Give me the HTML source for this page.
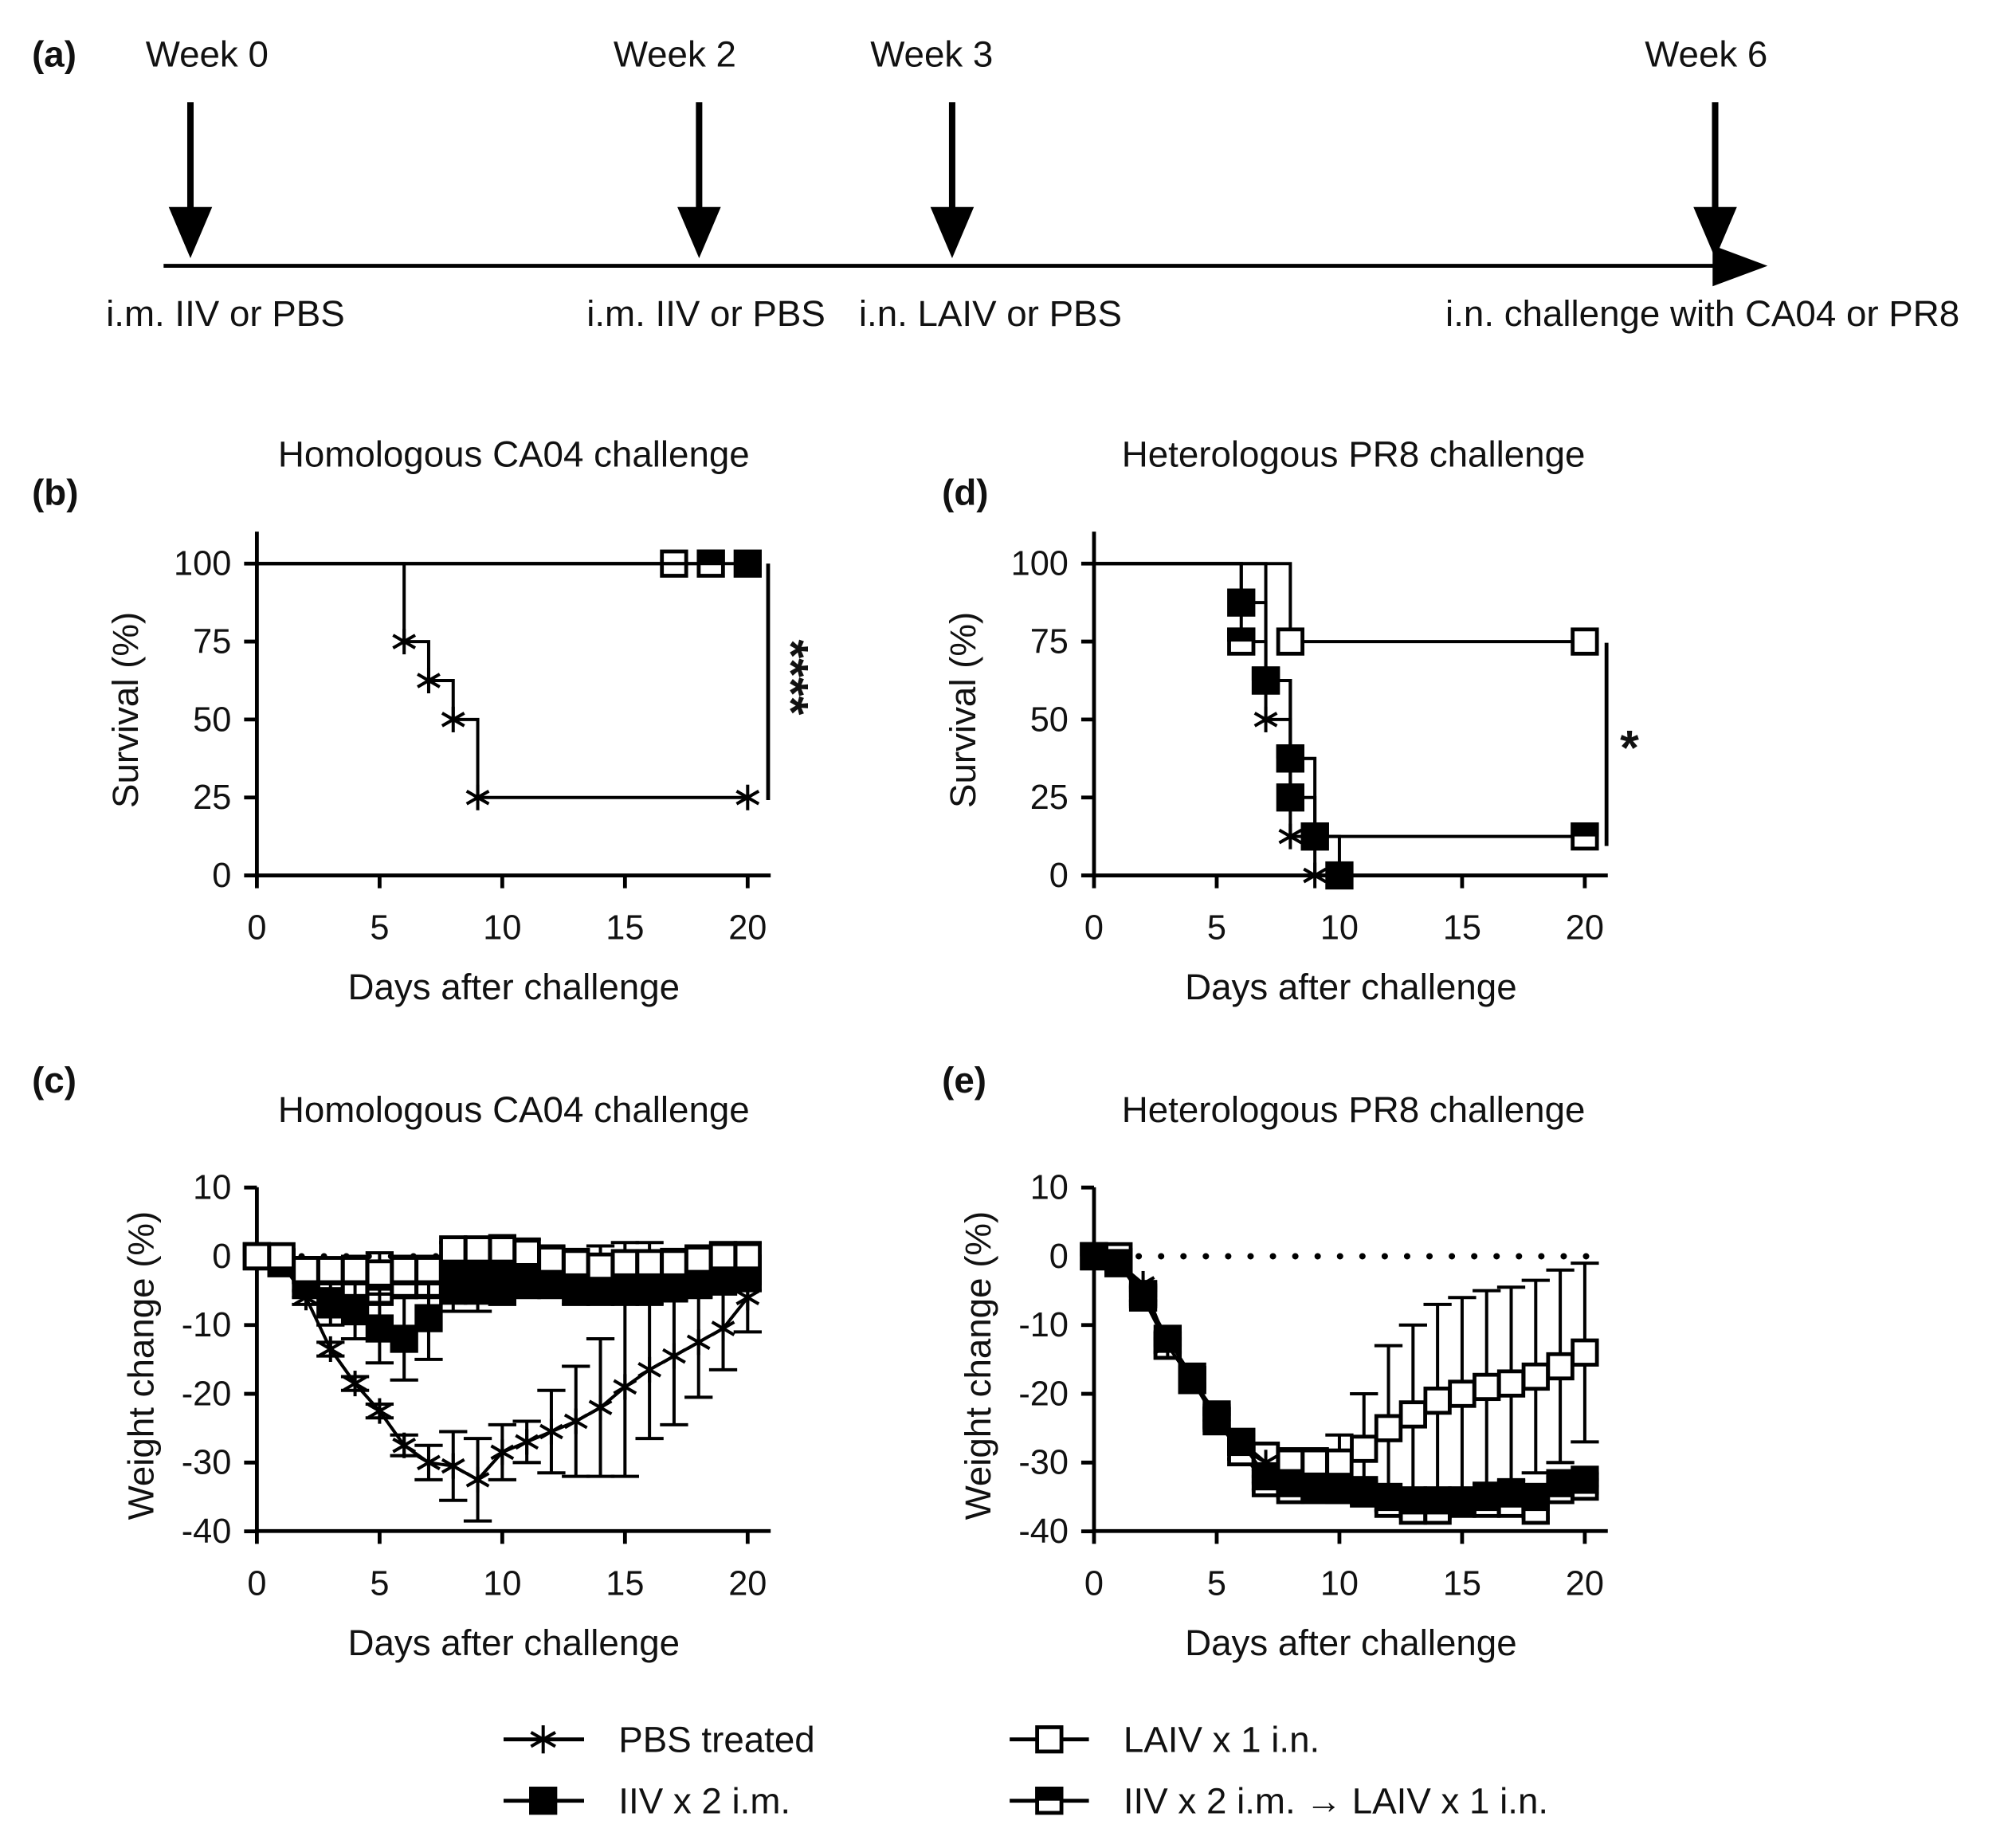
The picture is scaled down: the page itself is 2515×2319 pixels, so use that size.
<!DOCTYPE html>
<html><head><meta charset="utf-8"><style>
html,body{margin:0;padding:0;background:#fff}
svg{display:block}
text{font-family:"Liberation Sans",Arial,sans-serif;fill:#111}
</style></head><body>
<svg id="fig" width="2515" height="2319" viewBox="0 0 1568 1446" preserveAspectRatio="none" xmlns="http://www.w3.org/2000/svg">
<g font-size="28.5">
<text x="25" y="52" font-weight="bold">(a)</text>
<text x="162" y="52" text-anchor="middle">Week 0</text>
<text x="528" y="52" text-anchor="middle">Week 2</text>
<text x="729" y="52" text-anchor="middle">Week 3</text>
<text x="1335" y="52" text-anchor="middle">Week 6</text>
<line x1="128" y1="208" x2="1350" y2="208" stroke="#000" stroke-width="3"/>
<polygon points="1340,192 1383,208 1340,224" fill="#000"/>
<g><line x1="149" y1="80" x2="149" y2="170" stroke="#000" stroke-width="5"/><polygon points="132,162 166,162 149,202" fill="#000"/></g>
<g><line x1="547" y1="80" x2="547" y2="170" stroke="#000" stroke-width="5"/><polygon points="530,162 564,162 547,202" fill="#000"/></g>
<g><line x1="745" y1="80" x2="745" y2="170" stroke="#000" stroke-width="5"/><polygon points="728,162 762,162 745,202" fill="#000"/></g>
<g><line x1="1342" y1="80" x2="1342" y2="170" stroke="#000" stroke-width="5"/><polygon points="1325,162 1359,162 1342,202" fill="#000"/></g>
<text x="83" y="255">i.m. IIV or PBS</text>
<text x="459" y="255">i.m. IIV or PBS</text>
<text x="672" y="255">i.n. LAIV or PBS</text>
<text x="1131" y="255">i.n. challenge with CA04 or PR8</text>
</g>
<g id="plots"></g>
<g font-size="28.5">
<g><line x1="394" y1="1361" x2="457" y2="1361" stroke="#000" stroke-width="3"/><g id="lg0"></g><text x="484" y="1371">PBS treated</text></g>
<g><line x1="394" y1="1409" x2="457" y2="1409" stroke="#000" stroke-width="3"/><g id="lg1"></g><text x="484" y="1419">IIV x 2 i.m.</text></g>
<g><line x1="790" y1="1361" x2="852" y2="1361" stroke="#000" stroke-width="3"/><g id="lg2"></g><text x="879" y="1371">LAIV x 1 i.n.</text></g>
<g><line x1="790" y1="1409" x2="852" y2="1409" stroke="#000" stroke-width="3"/><g id="lg3"></g><text x="879" y="1419">IIV x 2 i.m. → LAIV x 1 i.n.</text></g>
</g>
</svg>
<script>
// ---- data ----
const days = [0,1,2,3,4,5,6,7,8,9,10,11,12,13,14,15,16,17,18,19,20];
const xTicks = [0,5,10,15,20];
const survTicks = [0,25,50,75,100];
const weightTicks = [-40,-30,-20,-10,0,10];
// survival step data (time, percent)
const survB_pbsT = [0,6,7,8,9,20];
const survB_pbsV = [100,75,62.5,50,25,25];
const survB_iivT = [0,20];   const survB_iivV = [100,100];
const survB_laivT = [0,17];  const survB_laivV = [100,100];
const survB_comboT = [0,18.5]; const survB_comboV = [100,100];
const survD_pbsT = [0,7,8,9];       const survD_pbsV = [100,50,12.5,0];
const survD_laivT = [0,8,20];       const survD_laivV = [100,75,75];
const survD_iivT = [0,6,7,8,8,9,10]; const survD_iivV = [100,87.5,62.5,37.5,25,12.5,0];
const survD_comboT = [0,6,7,8,9,20]; const survD_comboV = [100,75,62.5,37.5,12.5,12.5];
// weight change (%)
const wC_pbs   = [0,-1,-6,-13.5,-18.5,-22.5,-27.5,-30,-30.5,-32.5,-28.5,-27,-25.5,-24,-22,-19,-16.5,-14.5,-12.5,-10.5,-6];
const wC_pbsE  = [0,1,1,1,1,1,1.5,2.5,5,6,4,3,6,8,10,13,10,10,8,6,5];
const wC_laiv  = [0,0,-2,-2,-2,-2.5,-2,-2,1,1,1,0.5,-0.5,-1,-1.5,-1,-1,-1,-0.5,0,0];
const wC_laivE = [0,1,1,1,2,3,2,2,1,1,2,2,2,2,3,3,3,2,2,2,2];
const wC_iiv   = [0,-1,-4,-7,-8,-10.5,-12,-9,-5,-5,-5,-4,-4,-5,-5,-5,-5,-4.5,-4,-3.5,-3];
const wC_iivE  = [0,1,2,3,4,5,6,6,3,3,2,2,2,2,2,2,2,2,2,2,2];
const wC_combo = [0,-1,-2,-3,-4,-5,-4,-4,-3,-3,-3,-3,-3,-3,-3,-3,-3,-3,-2,-2,-2];
const wC_comboE= [0,1,1,2,2,2,2,2,2,2,2,2,2,2,2,2,2,2,2,2,2];
const wE_pbsD  = [0,1,2,3,4,5,6,7];
const wE_pbs   = [0,-1,-4,-13,-18,-23,-27,-30];
const wE_laiv  = [0,0,-5.5,-13,-18,-23,-27,-29,-30,-30,-30,-28,-25,-23,-21,-20,-19,-18.5,-17.5,-16,-14];
const wE_laivE = [0,1,1,1,1,1,1,1,2,2,4,8,12,13,14,14,14,14,14,14,13];
const wE_iiv   = [0,-1,-5.5,-12,-17.5,-23.5,-27,-32,-33,-33.5,-34,-34,-35,-35.5,-35.5,-35.5,-35,-34.5,-35,-33,-32.5];
const wE_iivE  = [0,1,1,1,1,1,1,1,1,1,1,1,1,1,1,1,1,1,1,1,1];
const wE_combo = [0,-1,-6,-13,-18,-24,-28.5,-33,-34,-34,-34,-34.5,-36,-37,-37,-36,-36,-36,-37,-34,-33.5];
const wE_comboE= [0,1,1,1,1,1,1,1,1,1,1,1,1,1,1,1,1,1,1,1,1];

const NS='http://www.w3.org/2000/svg';
const root=document.getElementById('plots');
function mk(tag,attrs,parent){const e=document.createElementNS(NS,tag);for(const k in attrs)e.setAttribute(k,attrs[k]);(parent||root).appendChild(e);return e;}

function marker(g,type,cx,cy,s){
  s=s||11;
  if(type==='star'){
    for(const a of [0,60,120]){const r=a*Math.PI/180;
      mk('line',{x1:cx-s*Math.sin(r),y1:cy-s*Math.cos(r),x2:cx+s*Math.sin(r),y2:cy+s*Math.cos(r),stroke:'#000','stroke-width':2.5},g);}
  } else if(type==='filled'){
    mk('rect',{x:cx-s,y:cy-s,width:2*s,height:2*s,fill:'#000'},g);
  } else if(type==='open'){
    mk('rect',{x:cx-s+1.5,y:cy-s+1.5,width:2*s-3,height:2*s-3,fill:'#fff',stroke:'#000','stroke-width':3},g);
  } else {
    mk('rect',{x:cx-s+1.5,y:cy-s+1.5,width:2*s-3,height:2*s-3,fill:'#fff',stroke:'#000','stroke-width':3},g);
    mk('rect',{x:cx-s,y:cy-s,width:2*s,height:s,fill:'#000'},g);
  }
}

function axes(x0,yTop,yBot,xs,ys,yMin,yMax,yTicks,ylabel,name){
  const g=mk('g',{});
  
  
  mk('line',{x1:x0,y1:yTop,x2:x0,y2:yBot+1.5,stroke:'#000','stroke-width':3},g);
  mk('line',{x1:x0,y1:yBot,x2:x0+402,y2:yBot,stroke:'#000','stroke-width':3},g);
  for(const t of xTicks){const x=xs(t);
    mk('line',{x1:x,y1:yBot,x2:x,y2:yBot+10,stroke:'#000','stroke-width':3},g);
    const tx=mk('text',{x:x,y:yBot+50,'text-anchor':'middle','font-size':27},g);tx.textContent=t;}
  for(const t of yTicks){const y=ys(t);
    mk('line',{x1:x0-10,y1:y,x2:x0,y2:y,stroke:'#000','stroke-width':3},g);
    const tx=mk('text',{x:x0-20,y:y+9,'text-anchor':'end','font-size':27},g);tx.textContent=t;}
  const xl=mk('text',{x:x0+201,y:yBot+97,'text-anchor':'middle','font-size':28.5},g);xl.textContent='Days after challenge';
  
  
  const cy=(yTop+yBot)/2+5;
  const lx=x0-(ylabel==='Survival (%)'?93:81);
  const yl=mk('text',{x:lx,y:cy,'text-anchor':'middle','font-size':28.5,transform:`rotate(-90 ${lx} ${cy})`},g);yl.textContent=ylabel;
  
  
}

function survPanel(x0,T,V,types,name){
  const xs=d=>x0+d*19.2, ys=v=>685-v*2.44;
  axes(x0,416,685,xs,ys,0,110,survTicks,'Survival (%)',name);
  T.forEach((tt,k)=>{
    const g=mk('g',{});
    
    
    const vv=V[k];
    let d=`M${xs(tt[0])},${ys(vv[0])}`;
    for(let i=1;i<tt.length;i++){d+=` H${xs(tt[i])} V${ys(vv[i])}`;}
    mk('path',{d:d,fill:'none',stroke:'#000','stroke-width':2.5},g);
    for(let i=1;i<tt.length;i++) marker(g,types[k],xs(tt[i]),ys(vv[i]),types[k]==='star'?10:11);
  });
}

function weightPanel(x0,sets,name){
  const xs=d=>x0+d*19.2, ys=v=>983-v*5.38;
  axes(x0,929,1198,xs,ys,-40,10,weightTicks,'Weight change (%)',name);
  const dg=mk('g',{});
  
  
  mk('line',{x1:x0,y1:983,x2:x0+402,y2:983,stroke:'#000','stroke-width':5,'stroke-dasharray':'0 17.5','stroke-linecap':'round'},dg);
  for(const s of sets){
    const g=mk('g',{});
    
    
    const dd=s.d||days;
    for(let i=0;i<dd.length;i++){ if(!s.e) break; const e=s.e[i]; if(!e) continue;
      const x=xs(dd[i]), y1=ys(s.v[i]-e), y2=ys(s.v[i]+e);
      mk('line',{x1:x,y1:y1,x2:x,y2:y2,stroke:'#000','stroke-width':2.5},g);
      mk('line',{x1:x-11,y1:y1,x2:x+11,y2:y1,stroke:'#000','stroke-width':2.5},g);
      mk('line',{x1:x-11,y1:y2,x2:x+11,y2:y2,stroke:'#000','stroke-width':2.5},g);}
    mk('polyline',{points:dd.map((d,i)=>xs(d)+','+ys(s.v[i])).join(' '),fill:'none',stroke:'#000','stroke-width':2.5},g);
    for(let i=0;i<dd.length;i++) marker(g,s.type,xs(dd[i]),ys(s.v[i]),s.type==='star'?10:11);
  }
}

function label(x,y,t,bold,name,anchor){const e=mk('text',{x:x,y:y,'font-size':28.5,'font-weight':bold?'bold':'normal','text-anchor':anchor||'start'});e.textContent=t;
  
  }

label(25,395,'(b)',true,'panel-b-label');
label(402,365,'Homologous CA04 challenge',false,'panel-b-title','middle');
label(737,395,'(d)',true,'panel-d-label');
label(1059,365,'Heterologous PR8 challenge',false,'panel-d-title','middle');
label(25,855,'(c)',true,'panel-c-label');
label(402,878,'Homologous CA04 challenge',false,'panel-c-title','middle');
label(737,855,'(e)',true,'panel-e-label');
label(1059,878,'Heterologous PR8 challenge',false,'panel-e-title','middle');

survPanel(201,[survB_pbsT,survB_laivT,survB_comboT,survB_iivT],[survB_pbsV,survB_laivV,survB_comboV,survB_iivV],['star','open','combo','filled'],'panel-b');
survPanel(856,[survD_laivT,survD_pbsT,survD_comboT,survD_iivT],[survD_laivV,survD_pbsV,survD_comboV,survD_iivV],['open','star','combo','filled'],'panel-d');

weightPanel(201,[{v:wC_pbs,e:wC_pbsE,type:'star'},{v:wC_combo,e:wC_comboE,type:'combo'},{v:wC_iiv,e:wC_iivE,type:'filled'},{v:wC_laiv,e:wC_laivE,type:'open'}],'panel-c');
weightPanel(856,[{v:wE_laiv,e:wE_laivE,type:'open'},{v:wE_combo,e:wE_comboE,type:'combo'},{v:wE_iiv,e:wE_iivE,type:'filled'},{d:wE_pbsD,v:wE_pbs,type:'star'}],'panel-e');

// significance markers
const sb=mk('g',{});


mk('line',{x1:601,y1:441,x2:601,y2:626,stroke:'#000','stroke-width':3},sb);
const st=mk('text',{x:606,y:530,'font-size':38,'font-weight':'bold','text-anchor':'middle',transform:'rotate(90 606 530)'},sb);st.textContent='****';
const sd=mk('g',{});


mk('line',{x1:1257,y1:503,x2:1257,y2:662,stroke:'#000','stroke-width':3},sd);
const st2=mk('text',{x:1275,y:598,'font-size':38,'font-weight':'bold','text-anchor':'middle'},sd);st2.textContent='*';

// legend markers
marker(document.getElementById('lg0'),'star',425,1361,11);
marker(document.getElementById('lg1'),'filled',425,1409,11);
marker(document.getElementById('lg2'),'open',821,1361,11);
marker(document.getElementById('lg3'),'combo',821,1409,11);
</script>
</body></html>
